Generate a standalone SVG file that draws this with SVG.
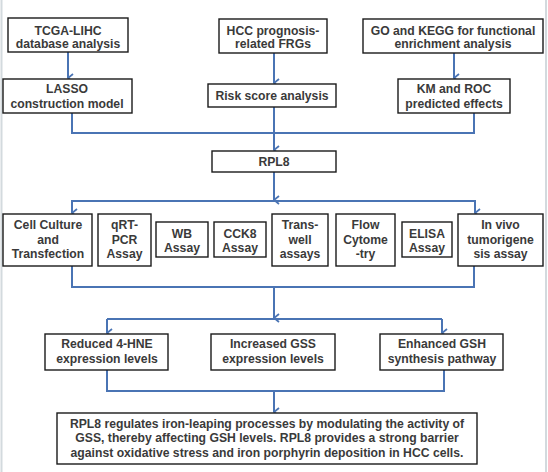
<svg xmlns="http://www.w3.org/2000/svg" width="548" height="472" viewBox="0 0 548 472">
<defs>
<marker id="ah" viewBox="0 0 10 10" refX="5" refY="9" markerWidth="10" markerHeight="10" markerUnits="userSpaceOnUse" orient="auto-start-reverse">
<polyline points="1,4 5,9 9,4" fill="none" stroke="#4a74b4" stroke-width="1.8"/>
</marker>
<style>
.b{fill:#fff;stroke:#1a1a1a;stroke-width:1.4}
.t{font-family:"Liberation Sans",Arial,sans-serif;font-weight:bold;font-size:12.2px;fill:#3a3a3a;text-anchor:middle}
.c{fill:none;stroke:#4a74b4;stroke-width:2}
.a{fill:none;stroke:#4a74b4;stroke-width:2;marker-end:url(#ah)}
</style>
</defs>
<rect width="548" height="472" fill="#fff"/>
<line x1="1.5" y1="0" x2="1.5" y2="472" stroke="#d3dade" stroke-width="2"/>
<line x1="546" y1="0" x2="546" y2="472" stroke="#d3dade" stroke-width="2"/>
<g id="connectors">
<line class="a" x1="68" y1="52" x2="68" y2="78"/>
<line class="a" x1="274" y1="53" x2="274" y2="83"/>
<line class="a" x1="454" y1="53" x2="454" y2="78"/>
<polyline class="c" points="72,113 72,133 474,133 474,113"/>
<line class="a" x1="274" y1="107" x2="274" y2="150"/>
<line class="a" x1="274" y1="172" x2="274" y2="200"/>
<polyline class="c" points="72,213 72,201 475,201 475,213"/>
<line class="a" x1="72" y1="201" x2="72" y2="213"/>
<line class="a" x1="475" y1="201" x2="475" y2="213"/>
<polyline class="c" points="72,266 72,287 474,287 474,266"/>
<line class="a" x1="274" y1="287" x2="274" y2="318"/>
<line class="c" x1="107" y1="319" x2="442" y2="319"/>
<line class="a" x1="107" y1="319" x2="107" y2="333"/>
<line class="a" x1="442" y1="319" x2="442" y2="333"/>
<polyline class="c" points="107,370 107,391 444,391 444,370"/>
<line class="a" x1="274" y1="391" x2="274" y2="412"/>
</g>
<g id="n1"><rect class="b" x="8" y="18" width="120" height="34"/><text class="t" x="68" y="35">TCGA-LIHC</text><text class="t" x="68" y="48">database analysis</text></g>
<g id="n2"><rect class="b" x="219" y="19" width="108" height="34"/><text class="t" x="273" y="35">HCC prognosis-</text><text class="t" x="273" y="48">related FRGs</text></g>
<g id="n3"><rect class="b" x="363" y="19" width="180" height="34"/><text class="t" x="453" y="35">GO and KEGG for functional</text><text class="t" x="453" y="48">enrichment analysis</text></g>
<g id="n4"><rect class="b" x="3" y="79" width="129" height="34"/><text class="t" x="67" y="93">LASSO</text><text class="t" x="67" y="108">construction model</text></g>
<g id="n5"><rect class="b" x="208" y="84" width="128" height="23"/><text class="t" x="272" y="100">Risk score analysis</text></g>
<g id="n6"><rect class="b" x="398" y="79" width="112" height="34"/><text class="t" x="454" y="93">KM and ROC</text><text class="t" x="454" y="108">predicted effects</text></g>
<g id="n7"><rect class="b" x="212" y="151" width="124" height="21"/><text class="t" x="274" y="166">RPL8</text></g>
<g id="n8"><rect class="b" x="3" y="214" width="89" height="52"/><text class="t" x="48" y="229">Cell Culture</text><text class="t" x="48" y="244">and</text><text class="t" x="48" y="258">Transfection</text></g>
<g id="n9"><rect class="b" x="98" y="214" width="53" height="52"/><text class="t" x="124.5" y="229">qRT-</text><text class="t" x="124.5" y="244">PCR</text><text class="t" x="124.5" y="258">Assay</text></g>
<g id="n10"><rect class="b" x="156" y="222" width="52" height="35"/><text class="t" x="182" y="238">WB</text><text class="t" x="182" y="252">Assay</text></g>
<g id="n11"><rect class="b" x="214" y="222" width="52" height="35"/><text class="t" x="240" y="238">CCK8</text><text class="t" x="240" y="252">Assay</text></g>
<g id="n12"><rect class="b" x="272" y="214" width="56" height="52"/><text class="t" x="300" y="229">Trans-</text><text class="t" x="300" y="244">well</text><text class="t" x="300" y="258">assays</text></g>
<g id="n13"><rect class="b" x="336" y="214" width="59" height="52"/><text class="t" x="365.5" y="229">Flow</text><text class="t" x="365.5" y="244">Cytome</text><text class="t" x="365.5" y="258">-try</text></g>
<g id="n14"><rect class="b" x="402" y="222" width="50" height="35"/><text class="t" x="427" y="238">ELISA</text><text class="t" x="427" y="252">Assay</text></g>
<g id="n15"><rect class="b" x="458" y="214" width="85" height="52"/><text class="t" x="500.5" y="229">In vivo</text><text class="t" x="500.5" y="244">tumorigene</text><text class="t" x="500.5" y="258">sis assay</text></g>
<g id="n16"><rect class="b" x="45" y="334" width="123" height="36"/><text class="t" x="107" y="348">Reduced 4-HNE</text><text class="t" x="107" y="363">expression levels</text></g>
<g id="n17"><rect class="b" x="211" y="334" width="124" height="36"/><text class="t" x="273" y="348">Increased GSS</text><text class="t" x="273" y="363">expression levels</text></g>
<g id="n18"><rect class="b" x="380" y="334" width="123" height="36"/><text class="t" x="442" y="348">Enhanced GSH</text><text class="t" x="442" y="363">synthesis pathway</text></g>
<g id="n19"><rect class="b" x="57" y="413" width="420" height="51"/><text class="t" x="267" y="428">RPL8 regulates iron-leaping processes by modulating the activity of</text><text class="t" x="267" y="442">GSS, thereby affecting GSH levels. RPL8 provides a strong barrier</text><text class="t" x="267" y="457">against oxidative stress and iron porphyrin deposition in HCC cells.</text></g>
</svg>
